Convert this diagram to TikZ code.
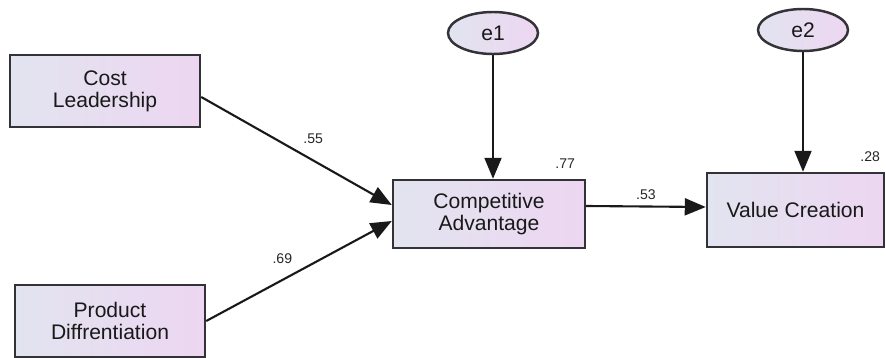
\documentclass[tikz,border=0pt]{standalone}
\usepackage{fontspec}
\setmainfont{Liberation Sans}
\usetikzlibrary{arrows.meta,shapes.geometric}

\definecolor{boxleft}{RGB}{226,228,240}
\definecolor{boxright}{RGB}{237,214,241}
\definecolor{edge}{RGB}{50,50,55}

\begin{document}
\begin{tikzpicture}[
    obsvar/.style={rectangle, draw=edge, line width=1.4pt, left color=boxleft, right color=boxright,
        text=black!90, align=center, font=\fontsize{12}{12.5}\selectfont},
    errterm/.style={ellipse, draw=edge, line width=1.4pt, left color=boxleft, right color=boxright,
        minimum width=1.8cm, minimum height=0.84cm, inner sep=0pt, text=black!90,
        font=\fontsize{12}{12.5}\selectfont},
    regpath/.style={-{Triangle[length=0.42cm, width=0.34cm]}, line width=1.2pt, draw=black!90},
    coef/.style={font=\fontsize{8}{9}\selectfont, text=black!85}
]
\useasboundingbox (0,0) rectangle (17.72,-7.16);

% Exogenous variables
\node[obsvar, minimum width=3.8cm, minimum height=1.44cm] (cost) at (2.1,-1.82) {Cost\\Leadership};
\node[obsvar, minimum width=3.8cm, minimum height=1.44cm] (prod) at (2.2,-6.42) {Product\\Diffrentiation};

% Endogenous variables
\node[obsvar, minimum width=3.84cm, minimum height=1.36cm] (comp) at (9.78,-4.28) {Competitive\\Advantage};
\node[obsvar, minimum width=3.54cm, minimum height=1.48cm] (value) at (15.91,-4.2) {Value Creation};

% Error terms
\node[errterm] (e1) at (9.86,-0.66) {e1};
\node[errterm] (e2) at (16.06,-0.6) {e2};

% Squared multiple correlations
\node[coef, anchor=south east] at ([xshift=-0.1cm, yshift=0.08cm]comp.north east) {.77};
\node[coef, anchor=south east] at ([xshift=0.02cm, yshift=0.08cm]value.north east) {.28};

% Paths
\draw[regpath] ([yshift=-0.12cm]cost.east) -- ([yshift=0.18cm]comp.west) node[midway, above right, coef] {.55};
\draw[regpath] (prod.east) -- ([yshift=-0.14cm]comp.west) node[midway, above left, coef] {.69};
\draw[regpath] ([yshift=0.16cm]comp.east) -- ([yshift=0.06cm]value.west) node[midway, above, coef] {.53};
\draw[regpath] (e1.south) -- (e1.south |- comp.north);
\draw[regpath] (e2.south) -- (e2.south |- value.north);

\end{tikzpicture}
\end{document}
